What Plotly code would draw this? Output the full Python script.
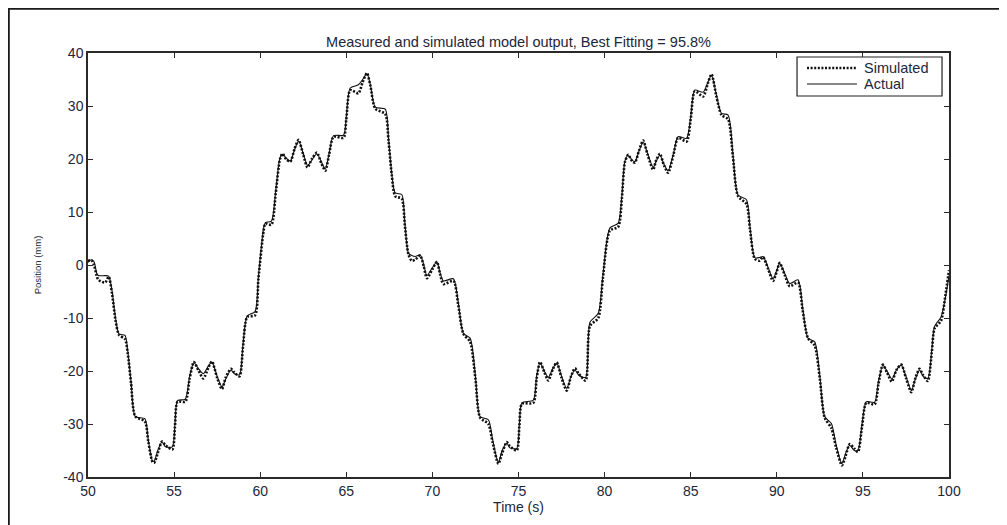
import plotly.graph_objects as go

time_s = [
    50.0, 50.2, 50.35, 50.5, 50.6, 51.0, 51.2, 51.4, 51.6, 51.8, 52.15, 52.3, 52.5, 52.75, 53.3, 53.5,
    53.75, 53.85, 54.05, 54.3, 54.5, 54.9, 55.05, 55.2, 55.65, 55.9, 56.15, 56.4, 56.7, 57.0, 57.2,
    57.5, 57.78, 58.0, 58.3, 58.5, 58.8, 59.0, 59.25, 59.7, 59.9, 60.2, 60.3, 60.65, 60.9, 61.15,
    61.3, 61.5, 61.75, 62.0, 62.23, 62.5, 62.75, 63.0, 63.29, 63.55, 63.78, 64.0, 64.26, 64.84,
    65.0, 65.23, 65.7, 65.95, 66.2, 66.4, 66.68, 67.26, 67.45, 67.64, 67.84, 68.22, 68.4, 68.61,
    68.8, 69.0, 69.29, 69.5, 69.68, 70.0, 70.26, 70.45, 70.64, 71.22,
    71.5, 71.8, 72.19, 72.5, 72.77, 73.25, 73.5, 73.83, 74.05, 74.32, 74.5, 74.9, 75.05, 75.2,
    75.86, 76.05, 76.25, 76.5, 76.73, 77.0, 77.22, 77.5, 77.8, 78.05, 78.28, 78.5, 78.9, 79.15,
    79.63, 79.9, 80.31, 80.79, 81.0, 81.18, 81.37, 81.6, 81.76, 82.0, 82.24, 82.5, 82.82, 83.0,
    83.21, 83.45, 83.69, 84.0, 84.27, 84.76, 85.0, 85.24, 85.72, 86.0, 86.21, 86.5, 86.79, 87.17,
    87.45, 87.75, 88.24, 88.45, 88.72, 89.0, 89.2, 89.5, 89.78, 90.0, 90.17, 90.45, 90.75, 91.23,
    91.5, 91.81, 92.2, 92.5, 92.78, 93.17, 93.45, 93.78, 94.0, 94.23, 94.5, 94.71, 94.95, 95.2,
    95.68, 95.9, 96.16, 96.4, 96.68, 96.95, 97.23, 97.5, 97.81, 98.05, 98.29, 98.5, 98.77, 99.0,
    99.16, 99.54, 99.8, 100.0,
]

actual_mm = [
    0.5, 1.0, 0.6, -1.5, -2.0, -2.0, -2.1, -5.0, -10.0, -13.0, -13.3, -16.0, -22.0, -28.6, -29.0, -33.0,
    -37.0, -37.0, -35.0, -33.4, -34.3, -34.3, -30.0, -25.6, -25.3, -21.0, -18.4, -19.5, -20.5, -19.0, -18.3,
    -21.0, -23.0, -21.5, -19.8, -20.5, -20.7, -15.0, -9.6, -8.8, -2.0, 7.0, 8.0, 8.3, 14.0, 20.2,
    20.9, 20.2, 19.6, 21.8, 23.4, 21.0, 18.8, 19.8, 21.0, 19.5, 18.1, 21.0, 24.4, 24.5,
    28.0, 33.4, 34.0, 35.0, 36.1, 34.0, 29.8, 29.4, 24.0, 17.3, 13.6, 13.3, 8.0, 2.2,
    1.8, 1.6, 1.9, 0.0, -2.0, -0.5, 0.6, -1.5, -3.0, -2.6,
    -7.0, -12.9, -13.8, -21.0, -28.6, -29.2, -33.0, -37.3, -35.0, -33.6, -34.5, -34.6, -30.0, -26.0,
    -25.5, -21.0, -18.5, -20.0, -21.2, -19.5, -18.5, -21.0, -23.3, -21.0, -19.8, -20.8, -21.2, -10.8,
    -9.1, -2.0, 7.0, 7.9, 13.0, 19.6, 20.7, 19.8, 19.5, 21.5, 23.2, 21.0, 18.4, 19.6,
    20.7, 19.0, 17.8, 21.0, 24.2, 23.9, 28.0, 33.0, 32.6, 34.5, 35.8, 32.0, 28.6, 28.3,
    21.0, 13.2, 12.3, 7.0, 1.4, 1.4, 1.6, -0.5, -2.6, -1.0, 0.3, -1.5, -3.5, -2.8,
    -8.0, -13.8, -14.5, -21.0, -28.6, -29.9, -34.0, -37.5, -35.5, -34.0, -35.0, -35.0, -30.0, -25.8,
    -25.9, -22.0, -18.9, -20.0, -21.5, -19.8, -18.9, -21.0, -23.7, -21.5, -19.8, -21.0, -21.4, -16.0,
    -11.6, -9.8, -6.0, -2.0,
]

simulated_mm = [
    0.8, 0.9, 0.0, -2.0, -2.8, -3.3, -2.2, -5.5, -10.5, -13.2, -14.0, -16.5, -22.3, -28.6, -29.5, -33.3,
    -37.2, -37.3, -35.5, -33.3, -34.0, -34.8, -30.5, -25.8, -25.8, -21.5, -18.3, -19.8, -21.4, -19.3, -18.2,
    -21.3, -23.4, -21.2, -19.6, -20.3, -21.0, -15.5, -9.8, -9.5, -2.5, 6.5, 7.8, 7.6, 13.5, 20.0,
    21.0, 20.0, 19.5, 22.0, 23.6, 20.8, 18.4, 20.0, 21.2, 19.2, 17.8, 20.8, 24.2, 24.0,
    27.5, 33.0, 32.4, 34.5, 36.2, 33.8, 29.5, 28.5, 23.5, 17.0, 13.0, 12.5, 7.5, 2.0,
    0.8, 1.0, 1.8, -0.3, -2.5, -0.8, 0.6, -1.8, -3.6, -3.0,
    -7.5, -13.0, -14.5, -21.5, -28.8, -30.0, -33.5, -37.5, -35.5, -33.4, -34.2, -35.0, -30.5, -26.2,
    -26.0, -21.5, -18.3, -20.2, -21.8, -19.6, -18.4, -21.3, -23.7, -21.0, -19.5, -20.5, -21.8, -11.5,
    -10.0, -2.5, 6.5, 7.2, 12.5, 19.4, 20.8, 19.6, 19.3, 21.6, 23.5, 20.8, 18.0, 19.8,
    21.0, 18.8, 17.4, 20.8, 24.0, 23.3, 27.5, 32.8, 31.8, 34.3, 36.0, 31.7, 28.3, 27.5,
    20.5, 13.0, 11.5, 6.5, 1.2, 0.8, 1.5, -0.8, -3.0, -1.2, 0.4, -1.8, -4.0, -3.3,
    -8.5, -13.8, -15.2, -21.5, -28.8, -30.8, -34.5, -37.8, -36.0, -33.8, -34.6, -35.3, -30.5, -26.0,
    -26.3, -22.5, -18.8, -20.3, -22.0, -19.8, -18.8, -21.3, -24.0, -21.3, -19.6, -20.8, -21.9, -16.5,
    -12.0, -10.5, -5.5, -1.0,
]

series_names = ["Simulated", "Actual"]
x_ticks = [50, 55, 60, 65, 70, 75, 80, 85, 90, 95, 100]
y_ticks = [-40, -30, -20, -10, 0, 10, 20, 30, 40]

title_text = "Measured and simulated model output, Best Fitting = 95.8%"
x_label = "Time (s)"
y_label = "Position (mm)"

FONT = "Liberation Sans, Arial, Helvetica, sans-serif"
TXT = "#23263a"
INK = "#111111"

sim_line = dict(color=INK, width=2.6, dash="2px,1.6px")
act_line = dict(color=INK, width=1.1)

fig = go.Figure()
fig.add_trace(go.Scatter(
    x=time_s, y=simulated_mm, mode="lines", name=series_names[0], showlegend=False,
    line=dict(shape="spline", smoothing=0.7, **sim_line),
))
fig.add_trace(go.Scatter(
    x=time_s, y=actual_mm, mode="lines", name=series_names[1], showlegend=False,
    line=dict(shape="spline", smoothing=0.7, **act_line),
))

axis_common = dict(
    showgrid=False, zeroline=False, showline=True, linecolor="#2a2a2a", linewidth=1.5,
    mirror="allticks", ticks="inside", ticklen=5, tickcolor="#2a2a2a", tickwidth=1.2,
    tickfont=dict(family=FONT, size=14, color=TXT),
)

# legend box drawn MATLAB-style (paper coordinates relative to the axes)
leg_x0, leg_x1, leg_y0, leg_y1 = 0.8235, 0.9919, 0.8986, 0.9906
samp_x0, samp_x1, text_x = 0.8351, 0.8931, 0.8990
row_y = [0.9646, 0.9269]

shapes = [
    # outer frame of the figure (top and left edges visible in the reference)
    dict(type="rect", xref="paper", yref="paper", x0=-0.0923, x1=1.3, y0=-0.3, y1=1.1050,
         line=dict(color="#1a1a1a", width=2.5), fillcolor="rgba(0,0,0,0)", layer="below"),
    dict(type="rect", xref="paper", yref="paper", x0=leg_x0, x1=leg_x1, y0=leg_y0, y1=leg_y1,
         line=dict(color="#222222", width=1.2), fillcolor="white", layer="above"),
    dict(type="line", xref="paper", yref="paper", x0=samp_x0, x1=samp_x1, y0=row_y[0], y1=row_y[0],
         line=sim_line, layer="above"),
    dict(type="line", xref="paper", yref="paper", x0=samp_x0, x1=samp_x1, y0=row_y[1], y1=row_y[1],
         line=act_line, layer="above"),
]
annotations = [
    dict(xref="paper", yref="paper", x=text_x, y=row_y[i], text=series_names[i], showarrow=False,
         xanchor="left", yanchor="middle", font=dict(family=FONT, size=14.5, color=TXT))
    for i in range(2)
]

fig.update_layout(
    width=999, height=517, autosize=False,
    margin=dict(l=80, r=58, t=45, b=48),
    paper_bgcolor="white", plot_bgcolor="white",
    font=dict(family=FONT, color=TXT),
    title=dict(text=title_text, x=0.5, xref="paper", y=1, yref="paper", yanchor="bottom",
               pad=dict(b=6), font=dict(family=FONT, size=14.5, color=TXT)),
    xaxis=dict(range=[50, 100], tickvals=x_ticks, ticktext=[str(v) for v in x_ticks],
               title=dict(text=x_label, standoff=0, font=dict(family=FONT, size=14, color=TXT)),
               **axis_common),
    yaxis=dict(range=[-40, 40], tickvals=y_ticks, ticktext=[str(v) for v in y_ticks],
               title=dict(text=y_label, standoff=20, font=dict(family=FONT, size=9.5, color=TXT)),
               **axis_common),
    showlegend=False,
    shapes=shapes,
    annotations=annotations,
)

fig.write_html("out.html")
